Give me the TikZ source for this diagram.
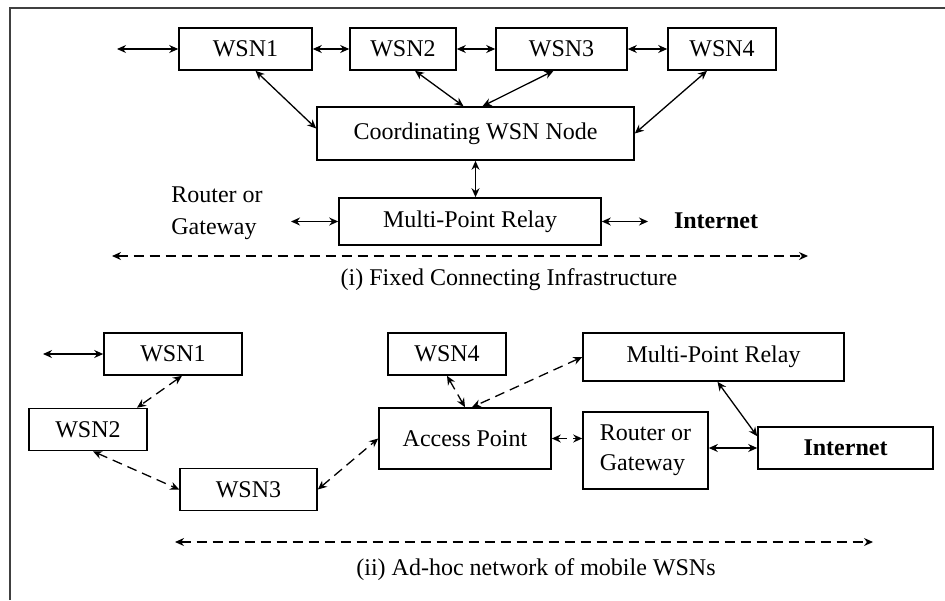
\documentclass[tikz,border=0pt]{standalone}
\usepackage{fontspec}
\setmainfont{Liberation Serif}
\usetikzlibrary{arrows.meta,positioning,calc}

\begin{document}
\begin{tikzpicture}[x=0.5pt,y=-0.5pt,
  every node/.append style={font=\fontsize{12}{15}\selectfont},
  bx/.style={draw,line width=0.8pt,inner sep=0pt,minimum height=21pt},
  lnk/.style={<->,>={Stealth[length=4.5pt,width=4pt]},line width=0.65pt},
  dlnk/.style={lnk,dash pattern=on 5pt off 3pt}]
\useasboundingbox (0,0) rectangle (945,600);
\draw[line width=1pt,black!75] (10,600) -- (10,8) -- (945,8);
% (i) fixed infrastructure
\node[bx,minimum width=66.5pt] (w1) at (245.5,49) {WSN1};
\node[bx,minimum width=53pt] (w2) at (403,49) {WSN2};
\node[bx,minimum width=65.5pt] (w3) at (561.5,49) {WSN3};
\node[bx,minimum width=54pt] (w4) at (722,49) {WSN4};
\node[bx,minimum width=158.5pt,minimum height=26.5pt] (crd) at (475.5,133.5) {Coordinating WSN Node};
\node[bx,minimum width=131pt,minimum height=23.5pt] (mpr) at (470,221.5) {Multi-Point Relay};
\node[align=left] (gw) at (217,213) {Router or\\[1pt]Gateway};
\node (net) at (716,221) {\textbf{Internet}};
\coordinate (t0) at (117,49);
\coordinate (tl) at (291,221.5);
\coordinate (tr) at (648,221.5);
\coordinate (da) at (112,256); \coordinate (db) at (808,256);
\node (cap1) at (509,280) {(i) Fixed Connecting Infrastructure};
\draw[lnk] (t0) -- (w1); \draw[lnk] (w1) -- (w2);
\draw[lnk] (w2) -- (w3); \draw[lnk] (w3) -- (w4);
\draw[lnk] ($(w1.south)+(10,0)$) -- ($(crd.west)+(0,-5)$);
\draw[lnk] ($(w2.south)+(12,0)$) -- ($(crd.north)+(-12,0)$);
\draw[lnk] ($(w3.south)+(-8,0)$) -- ($(crd.north)+(7,0)$);
\draw[lnk] ($(w4.south)+(-15,0)$) -- (crd.east);
\draw[lnk] (crd.south) -- (crd.south |- mpr.north);
\draw[lnk] (tl) -- (mpr.west); \draw[lnk] (mpr.east) -- (tr);
\draw[dlnk] (da) -- (db);
% (ii) ad-hoc network
\node[bx,minimum width=69pt] (m1) at (173,354) {WSN1};
\node[bx,minimum width=59pt] (m2) at (88,429.5) {WSN2};
\node[bx,minimum width=68.5pt] (m3) at (248.5,489.5) {WSN3};
\node[bx,minimum width=59pt] (m4) at (447,354) {WSN4};
\node[bx,minimum width=86pt,minimum height=30.5pt] (ap) at (465,438.5) {Access Point};
\node[bx,minimum width=130.5pt,minimum height=24pt] (rly) at (713.5,357) {Multi-Point Relay};
\node[bx,minimum width=62.5pt,minimum height=38.5pt,align=left] (rtr) at (645.5,450.5) {Router or\\Gateway};
\node[bx,minimum width=87.5pt] (inet) at (845.5,448) {\textbf{Internet}};
\coordinate (b0) at (43,354);
\coordinate (dc) at (175,542); \coordinate (dd) at (873,542);
\node (cap2) at (536,570) {(ii) Ad-hoc network of mobile WSNs};
\draw[lnk] (b0) -- (m1);
\draw[dlnk] ($(m1.south)+(9,0)$) -- ($(m2.north)+(49,0)$);
\draw[dlnk] ($(m2.south)+(5,0)$) -- (m3.west);
\draw[dlnk] (m3.east) -- (ap.west);
\draw[dlnk] (m4.south) -- (ap.north);
\draw[dlnk] (rly.west) -- ($(ap.north)+(7,0)$);
\draw[dlnk] (ap.east) -- (ap.east -| rtr.west);
\draw[lnk] (rtr.east |- inet.west) -- (inet.west);
\draw[lnk] ($(rly.south)+(4,0)$) -- ($(inet.north west)+(0,10)$);
\draw[dlnk] (dc) -- (dd);
\end{tikzpicture}
\end{document}
